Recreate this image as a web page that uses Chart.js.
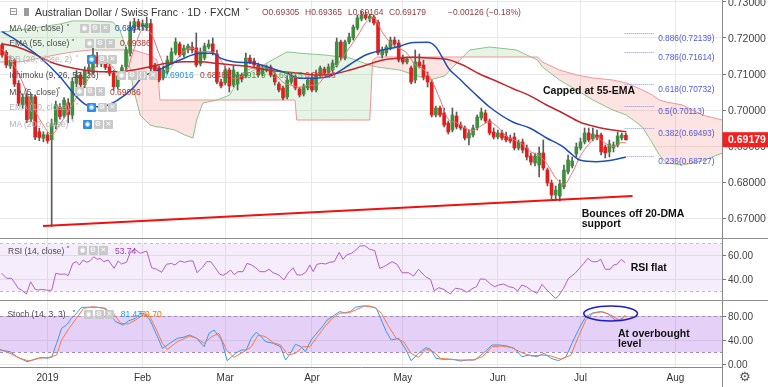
<!DOCTYPE html>
<html><head><meta charset="utf-8">
<script src="https://cdn.jsdelivr.net/npm/chart.js"></script>
<style>
html,body{margin:0;padding:0;background:#fff;}
#wrap{position:relative;width:768px;height:387px;overflow:hidden;font-family:"Liberation Sans",Arial,sans-serif;}
canvas{position:absolute;left:0;}
.t{position:absolute;white-space:nowrap;z-index:5;}
.ic{position:absolute;width:9px;height:9px;background:#c9c9c9;border-radius:1px;color:#fff;font-size:7px;line-height:9px;text-align:center;z-index:5;font-family:"DejaVu Sans",sans-serif;}
.ln{position:absolute;z-index:6;}
.ann{position:absolute;white-space:nowrap;z-index:7;font-weight:bold;font-size:10.5px;color:#111;line-height:10px;}
</style></head><body>
<div id="wrap">
<canvas id="cMain" width="768" height="239" style="top:0px"></canvas>
<canvas id="cRsi" width="768" height="62" style="top:239px"></canvas>
<canvas id="cSto" width="768" height="86" style="top:301px"></canvas>
</div>
<script>
// ---------------- DATA ----------------
const firstBar = -11;
const open = [.7181,.7160,.7122,.7138,.7074,.7015,.7037,.6975,.7037,.6940,.6922,.6931,
.6918,.6960,.7008,.6985,.7020,.6986,.7074,.7097,.7070,.7108,
.7110,.7148,.7128,.7140,.7120,.7102,.7065,.7095,.7120,.7158,
.7228,.7245,.7232,.7228,.7240,.7125,.71168,.7089,.71057,.71334,
.71584,.71834,.71528,.71667,.7175,.71723,.71279,.71445,.7175,.71834,
.71556,.70779,.70752,.71112,.70696,.70724,.70974,.70946,.71445,.71362,
.71251,.71001,.71112,.71196,.70974,.70724,.70613,.70363,.70779,.70918,
.70585,.70447,.70613,.7089,.70558,.70974,.7114,.71057,.71112,.71251,
.71889,.71445,.71889,.72,.72277,.72527,.72638,.72527,.72582,.72444,
.71528,.71584,.71723,.71944,.71861,.71445,.71334,.71168,.70835,.71334,
.71251,.70946,.70779,.69864,.70058,.6992,.69642,.69448,.69836,.69587,
.69503,.69226,.69309,.69503,.69781,.6992,.69698,.69392,.69254,.69365,
.69282,.69226,.69254,.68949,.69115,.68949,.68727,.68533,.68477,.6881,
.68338,.67978,.67645,.67617,.67867,.68283,.68449,.68782,.68949,.69115,
.69365,.69198,.69309,.69309,.68976,.68838,.68949,.69032,.69226,.69305];
const high = [.7186,.7165,.7150,.7142,.7082,.7045,.7048,.7045,.7042,.6950,.6940,.6938,
.6975,.7025,.7018,.7035,.7032,.7090,.7110,.7105,.7120,.7135,
.7171,.7160,.7150,.7148,.7128,.7110,.7100,.7125,.7175,.7245,
.7255,.7252,.7250,.7258,.7252,.7130,.71223,.71223,.71501,.71723,
.72,.71889,.71806,.71834,.71889,.72139,.71723,.71861,.71944,.72,
.71667,.70863,.71223,.71168,.71223,.71057,.71029,.71584,.71528,.71445,
.71306,.71251,.71251,.71251,.71029,.70779,.70668,.70946,.71029,.70974,
.70641,.70724,.7089,.71029,.71112,.71223,.71196,.71279,.7139,.72,
.71944,.71944,.72139,.72361,.72638,.72749,.72721,.72666,.72638,.72499,
.7175,.71806,.72028,.72028,.71944,.71528,.71473,.71223,.71667,.71556,
.7139,.71057,.70835,.70114,.70114,.70058,.69698,.70058,.69947,.6967,
.69559,.69448,.69587,.69864,.70058,.70003,.69753,.69503,.69448,.69448,
.69392,.69309,.69365,.6917,.69198,.69032,.6881,.6881,.68976,.6917,
.68394,.68061,.67895,.68061,.68477,.68755,.68699,.69087,.69226,.69503,
.69503,.69503,.69448,.69365,.69032,.6917,.69115,.69392,.69365,.69365];
const low = [.7147,.7118,.7115,.7065,.7012,.7005,.6965,.6968,.6918,.6915,.6912,.6908,
.6677,.6948,.6975,.6978,.6965,.6975,.7065,.7060,.7062,.7100,
.7100,.7120,.7120,.7112,.7095,.7055,.7058,.7088,.7112,.7150,
.7215,.7225,.7222,.7220,.7108,.7100,.70779,.70835,.71001,.71279,
.71528,.71473,.71473,.71584,.71584,.71196,.71223,.7139,.71695,.71528,
.70724,.70613,.70696,.70502,.70641,.70558,.70779,.7089,.71279,.71168,
.70918,.70946,.71057,.70918,.70696,.70502,.7028,.70308,.70724,.70558,
.70363,.70391,.70558,.70502,.70502,.70918,.70974,.71001,.71057,.71196,
.7139,.7139,.71834,.71944,.72222,.72472,.72499,.72444,.72361,.71528,
.71445,.71501,.71667,.7175,.71334,.71279,.71279,.70724,.70752,.71168,
.70835,.70641,.69809,.69809,.69809,.69531,.69337,.69392,.69476,.69448,
.6917,.69032,.69254,.69448,.69725,.69642,.69309,.69198,.69198,.6917,
.69115,.69087,.68893,.68893,.6881,.68616,.68477,.68449,.68144,.68338,
.67895,.67534,.67506,.67479,.67811,.68227,.68394,.68699,.68893,.6906,
.69115,.69143,.6917,.68755,.68671,.68699,.68838,.68976,.6917,.69164];
const close = [.7153,.7125,.7138,.7072,.7019,.7036,.6973,.7037,.6925,.6924,.6932,.6915,
.6962,.7015,.6982,.7028,.6988,.7079,.7097,.7070,.7111,.7118,
.7153,.7130,.7142,.7118,.7102,.7065,.7095,.7118,.7167,.7231,
.7245,.7232,.7240,.7240,.7115,.7106,.70835,.71112,.7139,.71612,
.71889,.71528,.71723,.71778,.71667,.71251,.71612,.71778,.71834,.71612,
.70779,.70668,.71112,.70668,.71112,.70974,.70863,.71445,.71334,.71251,
.70974,.71168,.71196,.70974,.70779,.70558,.70336,.70835,.70918,.70613,
.70419,.70668,.70835,.70558,.70946,.71168,.71029,.71196,.71306,.71889,
.71473,.71889,.72028,.72305,.72555,.72638,.72555,.7261,.72416,.71584,
.71667,.7175,.71944,.71834,.7139,.71334,.71417,.70779,.71334,.71223,
.70918,.70779,.69864,.70058,.69864,.69587,.69392,.69864,.69531,.69503,
.69226,.69365,.69503,.69809,.69947,.69698,.69365,.69254,.69365,.69226,
.6917,.69143,.68949,.69115,.68893,.68699,.6856,.68727,.6881,.68394,
.67978,.67645,.67784,.6795,.68338,.68616,.68588,.68976,.69115,.69365,
.6917,.69337,.69226,.68838,.6881,.6906,.69032,.69282,.69309,.69179];

const ma20Bars = [-11,-7,-2,3,7,10,13,17,21,23,26,32,37,40,42,45,50,53,58,61,65,69,73,77,81,85,88,92,94,95.5,97,99.5,103,107,112.6,116.7,120.8,124.7,127.1,128.8,132.9,136.8,140];
const ma20Vals = [.72175,.71897,.71481,.70927,.70372,.70114,.70095,.7028,.70649,.70927,.71065,.7139,.71575,.71575,.71436,.71343,.71298,.71204,.71021,.70882,.70882,.70974,.71251,.71528,.71667,.71759,.7187,.71881,.7175,.71473,.71168,.7089,.70502,.70086,.6967,.69503,.69226,.68985,.68755,.68616,.68569,.68616,.68699];
const ema55Bars = [-11,-7.5,-3.5,0.6,4.6,8.6,12.7,16.7,20.7,24.8,28.8,32.8,36.9,40.9,44.9,49,53,57,61.1,65.1,69.1,73.2,77.2,81.2,85.2,88.4,92.5,96.6,100.5,104.6,108.7,112.6,116.7,120.8,124.7,128.8,132.9,136.8,140.1];
const ema55Vals = [.71834,.71759,.71575,.71343,.71204,.71112,.71065,.71065,.71112,.71204,.71298,.71343,.71343,.71298,.71251,.71204,.71112,.71065,.71021,.70974,.71001,.71112,.71251,.7139,.71445,.71465,.71445,.71409,.71251,.7100,.7080,.7060,.7040,.70141,.6992,.6967,.69531,.69448,.69401];
const ma5Bars = [-11,-9,-7,-5,-3,-1,1,3,5,7,9,11,13,15,17,19,21,23,25,27,29,31,33,35,37,39,41,43,45,47,49,51,53,55,57,59,61,63,65,67,69,71,73,75,77,79,81,83,85,87,89,91,93,95,97,99,101,103,105,107,109,111,113,115,117,119,121,123,125,127,129,131,133,135,137,139,140];
const ma5Vals = [.7170,.7140,.7101,.7048,.6998,.6958,.6932,.6961,.6995,.7035,.7069,.7110,.7131,.7129,.7104,.7109,.7171,.7223,.7214,.7157,.7111,.7137,.7163,.7172,.7161,.7163,.7152,.7120,.7087,.7094,.7114,.7117,.7118,.7102,.7077,.7069,.7063,.7069,.7069,.7091,.7113,.7138,.7172,.7205,.7242,.7256,.7217,.7187,.7172,.7158,.7125,.7113,.7082,.7030,.6975,.6965,.6950,.6943,.6957,.6967,.6953,.6928,.6917,.6905,.6884,.6874,.6849,.6812,.6794,.6826,.6873,.6905,.6925,.6908,.6899,.6910,.6909];

const cloudBars = [-11.5,-6.7,-1.8,3,6.1,10.3,15.8,17.5,19.2,20.7,22.4,24.8,26.5,27.2,30.8,33.2,35.2,36.1,37.6,41,44.1,46.5,51.4,57.9,59.9,60.3,67.1,73.1,78,78.7,79.7,85.2,92.5,96.1,99.8,102.2,107,113.5,116,118.6,119.8,123.9,128.1,132,136.8,140.1,144,146.4,148.1,149.8,153.7,158.5,163.3];
const spanA = [.72166,.72222,.72305,.72388,.72472,.72472,.72444,.72222,.71667,.70641,.69864,.69587,.69531,.69531,.69448,.69309,.69226,.69725,.70197,.7028,.70419,.7089,.71196,.71612,.71598,.71584,.71528,.71445,.71251,.71223,.71196,.71112,.70835,.70946,.7139,.71667,.7175,.71667,.71528,.7139,.71196,.70835,.70558,.7028,.70003,.69864,.69531,.69087,.68755,.68533,.68477,.68588,.6881];
const spanB = [.71334,.71334,.71445,.71556,.71612,.71667,.71667,.71667,.71667,.71667,.71612,.71528,.7139,.7028,.7028,.7028,.7028,.7028,.7028,.7028,.7028,.7028,.7028,.7028,.7028,.69725,.69725,.69725,.69725,.7139,.71473,.71473,.71473,.71473,.71473,.71473,.71473,.71473,.71473,.71473,.71334,.71112,.70974,.7089,.70835,.70752,.70558,.70419,.7028,.70225,.70141,.69864,.69725];

const trendBars = [-1.1, 141.6];
const trendVals = [0.66785, 0.67617];
const fibRatios = [0.886, 0.786, 0.618, 0.5, 0.382, 0.236];
const fibPrices = [0.72139, 0.71614, 0.70732, 0.70113, 0.69493, 0.68727];

const rsiBars = [-11.1,-9.9,-8.7,-7.9,-7.1,-6.3,-5.1,-4.1,-3.0,-2.2,-1.4,-0.2,1.0,2.0,3.0,4.2,5.0,6.1,7.0,7.7,8.6,9.5,10.3,11.2,12.0,12.7,13.6,14.7,16.1,17.1,17.9,19.1,20.1,21.1,22.4,24.0,25.2,26.4,27.6,28.8,30.0,30.8,32.0,33.2,34.3,35.2,36.2,37.5,38.5,39.5,40.5,41.7,42.5,43.3,44.3,45.2,46.1,47.3,48.3,49.4,50.4,51.4,52.6,53.6,54.6,56.0,57.2,58.2,59.4,60.4,61.5,62.5,63.5,64.3,65.2,66.3,67.3,68.3,69.4,70.6,71.5,72.4,73.6,74.4,75.6,76.8,78.0,79.2,80.4,81.4,83.4,84.6,85.8,87.4,88.6,89.8,91.5,92.7,93.6,94.7,95.9,97.5,98.7,100.3,101.5,103.0,103.8,104.8,106.0,107.2,108.2,109.2,110.4,111.6,112.8,113.8,114.8,115.9,117.2,118.5,119.7,120.9,121.7,122.9,123.7,124.9,126.1,127.7,129.0,129.8,130.8,131.8,133.0,133.9,135.0,136.2,137.0,137.8,138.9,139.8];
const rsiVals = [44.8,40.6,40.6,36.4,32.2,30.7,27.3,37.7,31.3,30.7,31.3,30.5,30.5,44.8,44.0,44.2,42.8,53.2,54.6,51.8,56.0,54.1,55.4,58.8,56.6,57.5,54.6,56.0,49.0,55.2,52.7,54.1,63.0,65.1,61.7,63.6,49.5,48.2,45.7,52.4,53.2,51.8,55.2,54.1,55.2,55.2,45.3,49.9,54.6,54.6,49.9,44.0,43.1,44.8,47.6,43.6,46.2,46.2,53.2,51.8,49.5,46.2,46.2,48.2,45.3,43.4,39.2,44.8,49.5,43.4,43.4,45.7,51.8,46.2,52.4,53.2,52.7,54.1,54.6,62.5,56.6,60.3,61.7,63.9,67.8,68.1,65.1,63.9,49.0,50.4,54.6,52.4,45.3,45.3,42.5,48.2,41.9,39.7,30.1,32.7,31.3,27.3,32.2,31.3,28.8,32.2,33.5,40.1,39.7,35.8,33.5,34.9,35.8,33.5,32.7,29.9,34.9,33.5,30.1,27.9,35.5,30.7,27.9,23.7,25.7,32.2,40.6,44.8,49.9,53.2,57.5,54.6,54.6,56.6,48.2,48.2,51.8,52.4,56.6,53.74];
const rsiBand = [30, 70];

const kBars = [-11.5,-9.1,-7.4,-5.0,-3.2,-1.4,-0.2,1.0,2.2,3.4,4.6,5.8,7.0,8.2,9.9,12.3,14.1,15.3,16.5,18.3,19.7,21.3,22.4,23.6,24.8,26.6,27.8,29.6,31.4,32.8,34.4,36.1,37.9,39.1,40.3,42.1,43.5,45.5,46.9,48.1,49.3,50.5,51.6,52.8,54.6,56.4,57.6,58.8,60.0,61.4,62.4,63.8,64.8,66.5,67.7,69.5,70.7,71.9,73.3,74.5,76.1,77.9,79.6,80.8,82.0,83.2,85.0,86.8,88.0,89.8,91.6,92.7,94.0,95.7,98.1,99.9,101.7,103.5,105.9,107.6,109.4,111.2,113.0,114.8,116.6,118.4,120.2,121.9,123.7,125.5,127.3,128.9,130.3,132.1,133.9,135.7,137.4,138.9,139.8];
const kVals = [23.8,21,12.7,4.5,8.4,11.7,10,11.7,34.9,59.7,65.1,76.2,84.5,94.4,94.4,94.4,92.7,81.7,70.6,65.1,72.2,76.2,84.5,83.3,73.4,45.8,26.6,34.9,43.1,44.8,48.6,43.1,29.3,51.4,56.9,40.3,6.1,18.3,23.8,23.8,43.1,53.1,46.9,37.5,34.9,29.3,7.3,18.3,33.2,29.3,21,40.3,48.6,62.3,73.4,81.7,87.2,85.5,87.2,94.4,96.5,96.5,92.7,73.4,54,40.3,43.1,23.8,6.1,18.3,27.6,25,10,8.4,8.4,5.6,7.3,7.3,21,32.1,32.1,30.4,26.6,12.7,15.5,12.7,18.3,10,6.1,12.7,40.3,62.3,78.8,85.5,87.2,83.3,73.4,73.4,81.43];
const dBars = [-11.5,-9.1,-6.7,-4.4,-2.0,0.4,2.2,3.4,5.2,7.0,8.7,11.1,13.5,15.9,17.7,19.5,21.3,23.1,24.8,26.0,27.8,29.0,31.4,34.4,36.1,37.9,39.7,41.5,43.3,45.1,47.5,49.3,51.0,52.8,54.6,56.4,58.2,60.0,61.8,63.5,65.3,67.1,68.9,70.7,73.1,74.9,76.7,79.1,80.8,82.6,84.4,86.2,88.0,89.8,91.6,93.4,95.1,97.5,99.9,102.9,105.3,107.6,110.0,112.4,114.8,117.2,119.6,121.9,124.3,126.7,128.5,130.3,132.1,134.4,136.8,138.4,139.8];
const dVals = [25,18.3,10,5.6,10,11.7,15.5,40.3,59.7,76.2,92.7,95.4,92.7,84.5,67.9,66.8,73.4,81.7,78.8,62.3,34.9,25,37.5,46.9,43.1,34.9,45.8,51.4,23.8,11.7,21,29.3,48.6,45.8,35.9,32.1,15.5,18.3,29.3,29.3,45.8,62.3,76.2,84.5,85.5,91,96.5,94.4,84.5,62.3,43.1,37.5,18.3,11.7,25,21,10,8.4,7.3,7.3,12.7,29.3,30.4,27.6,19.3,13.9,15.5,13.9,8.4,15.5,45.8,73.4,84.5,87.2,80,73.4,79.7];
const stochBand = [20, 80];
const ellipseBars = [129.8, 142.8];
const ellipseVals = [71.7, 96.5];

const monthBars = [0, 23, 43, 64, 86, 109, 129, 152];
const monthLabels = ['2019','Feb','Mar','Apr','May','Jun','Jul','Aug'];
const priceTicks = [0.67, 0.68, 0.69, 0.70, 0.71, 0.72, 0.73];
const rsiTicks = [40, 60];
const stochTicks = [0, 40, 80];

// ---------------- RENDER ----------------
const FONT = 'Liberation Sans, Arial, sans-serif';
const X_MIN = -11.51, X_MAX = 163.26;
const GRID = '#e9e9e9';
const pts = (xs, ys) => xs.map((x, k) => ({x, y: ys[k]}));
const bars = close.map((_, k) => firstBar + k);
const up = close.map((c, k) => c >= open[k]);

function xScale(showLabels) {
  return {
    type: 'linear', min: X_MIN, max: X_MAX, offset: false,
    grid: {color: GRID, drawTicks: false, offset: false},
    border: {display: showLabels, color: '#888'},
    afterBuildTicks: s => { s.ticks = monthBars.map(v => ({value: v})); },
    ticks: showLabels ? {display: true, autoSkip: false, maxRotation: 0, padding: 5, color: '#333',
      font: {family: FONT, size: 10}, callback: v => monthLabels[monthBars.indexOf(v)]} : {display: false},
    afterFit: s => { s.height = showLabels ? 20 : 0; s.paddingLeft = 0; s.paddingRight = 0; s.paddingTop = 0; s.paddingBottom = 0; }
  };
}
function yScale(min, max, ticks, dec, size) {
  return {
    position: 'right', min, max,
    afterBuildTicks: s => { s.ticks = ticks.map(v => ({value: v})); },
    ticks: {callback: v => Number(v).toFixed(dec), color: '#444', padding: 2, autoSkip: false, labelOffset: 1.2,
      font: {family: FONT, size}},
    grid: {color: GRID, tickColor: '#777', tickLength: 4},
    border: {display: true, color: '#888'},
    afterFit: s => { s.width = 46; s.paddingTop = 0; s.paddingBottom = 0; s.paddingLeft = 0; s.paddingRight = 0; }
  };
}
const base = {responsive: false, animation: false, devicePixelRatio: 1,
  layout: {padding: 0, autoPadding: false}, events: []};

const bandPlugin = {
  id: 'band',
  beforeDatasetsDraw(chart, args, o) {
    if (!o || !o.levels) return;
    const {ctx, chartArea: a} = chart; const y = chart.scales.y;
    const yt = y.getPixelForValue(o.levels[1]), yb = y.getPixelForValue(o.levels[0]);
    ctx.save();
    ctx.fillStyle = o.fill; ctx.fillRect(a.left, yt, a.right - a.left, yb - yt);
    ctx.strokeStyle = o.line; ctx.lineWidth = 1; ctx.setLineDash([3, 3]);
    [yt, yb].forEach(v => { const p = Math.round(v) + 0.5; ctx.beginPath(); ctx.moveTo(a.left, p); ctx.lineTo(a.right, p); ctx.stroke(); });
    ctx.restore();
  }
};

const mainAnno = {
  id: 'mainAnno',
  afterDatasetsDraw(chart) {
    const {ctx} = chart; const x = chart.scales.x, y = chart.scales.y;
    ctx.save();
    ctx.font = '8.3px ' + FONT; ctx.textBaseline = 'middle'; ctx.fillStyle = '#5258e0';
    fibPrices.forEach((p, k) => {
      const py = Math.round(y.getPixelForValue(p)) + 0.5;
      ctx.strokeStyle = '#8d92f2'; ctx.lineWidth = 1; ctx.setLineDash([1, 1]);
      ctx.beginPath(); ctx.moveTo(x.getPixelForValue(139.7), py); ctx.lineTo(x.getPixelForValue(147), py); ctx.stroke();
      ctx.fillText(fibRatios[k] + '(' + p.toFixed(5) + ')', x.getPixelForValue(147.8), py + 5);
    });
    ctx.restore();
  },
  afterDraw(chart) {
    const {ctx} = chart; const y = chart.scales.y; const a = chart.chartArea;
    const last = close[close.length - 1];
    const py = y.getPixelForValue(last);
    ctx.save();
    ctx.fillStyle = '#f41f1f'; ctx.fillRect(a.right + 0.5, py - 7.5, 768 - a.right, 15);
    ctx.fillStyle = '#fff'; ctx.font = 'bold 10.5px ' + FONT; ctx.textBaseline = 'middle';
    ctx.fillText(last.toFixed(5), a.right + 6, py + 0.5);
    ctx.restore();
  }
};

const stochAnno = {
  id: 'stochAnno',
  afterDatasetsDraw(chart) {
    const {ctx} = chart; const x = chart.scales.x, y = chart.scales.y;
    const x0 = x.getPixelForValue(ellipseBars[0]), x1 = x.getPixelForValue(ellipseBars[1]);
    const y0 = y.getPixelForValue(ellipseVals[1]), y1 = y.getPixelForValue(ellipseVals[0]);
    ctx.save(); ctx.strokeStyle = '#1d1dc4'; ctx.lineWidth = 1.6;
    ctx.beginPath(); ctx.ellipse((x0 + x1) / 2, (y0 + y1) / 2, (x1 - x0) / 2, (y1 - y0) / 2, 0, 0, Math.PI * 2); ctx.stroke();
    ctx.restore();
  }
};

new Chart(document.getElementById('cMain'), {
  type: 'bar',
  data: {datasets: [
    {type: 'line', data: pts(cloudBars, spanA), borderColor: '#88c488', borderWidth: 1, pointRadius: 0, tension: 0,
      fill: {target: '+1', above: 'rgba(76,175,80,0.14)', below: 'rgba(244,67,54,0.15)'}, order: 20},
    {type: 'line', data: pts(cloudBars, spanB), borderColor: '#f09494', borderWidth: 1, pointRadius: 0, tension: 0, fill: false, order: 19},
    {type: 'bar', data: bars.map((b, k) => ({x: b, y: [low[k], high[k]]})), backgroundColor: '#5a5a5a',
      barThickness: 1, grouped: false, order: 10},
    {type: 'bar', data: bars.map((b, k) => ({x: b, y: [open[k], close[k]]})),
      backgroundColor: up.map(u => u ? '#3d8e3d' : '#e41c1c'), barThickness: 3, minBarLength: 1, grouped: false, order: 9},
    {type: 'line', data: pts(ma5Bars, ma5Vals), borderColor: '#e87272', borderWidth: 1, pointRadius: 0, cubicInterpolationMode: 'monotone', order: 3},
    {type: 'line', data: pts(ema55Bars, ema55Vals), borderColor: '#c0282d', borderWidth: 1.5, pointRadius: 0, cubicInterpolationMode: 'monotone', order: 2},
    {type: 'line', data: pts(ma20Bars, ma20Vals), borderColor: '#1f4fb2', borderWidth: 1.5, pointRadius: 0, cubicInterpolationMode: 'monotone', order: 1},
    {type: 'line', data: pts(trendBars, trendVals), borderColor: '#f01010', borderWidth: 1.8, pointRadius: 0, order: 0}
  ]},
  options: Object.assign({}, base, {
    plugins: {legend: {display: false}, tooltip: {enabled: false}},
    scales: {x: xScale(false), y: yScale(0.66424, 0.73054, priceTicks, 5, 10.5)}
  }),
  plugins: [mainAnno]
});

new Chart(document.getElementById('cRsi'), {
  type: 'line',
  data: {datasets: [
    {data: pts(rsiBars, rsiVals), borderColor: '#b25ec9', borderWidth: 1, pointRadius: 0, tension: 0}
  ]},
  options: Object.assign({}, base, {
    plugins: {legend: {display: false}, tooltip: {enabled: false},
      band: {levels: rsiBand, fill: 'rgba(170,100,230,0.12)', line: '#c8b6da'}},
    scales: {x: xScale(false), y: yScale(21.44, 73.76, rsiTicks, 2, 10)}
  }),
  plugins: [bandPlugin]
});

new Chart(document.getElementById('cSto'), {
  type: 'line',
  data: {datasets: [
    {data: pts(dBars, dVals), borderColor: '#ff7640', borderWidth: 1, pointRadius: 0, tension: 0},
    {data: pts(kBars, kVals), borderColor: '#3a97f0', borderWidth: 1, pointRadius: 0, tension: 0}
  ]},
  options: Object.assign({}, base, {
    plugins: {legend: {display: false}, tooltip: {enabled: false},
      band: {levels: stochBand, fill: 'rgba(170,100,230,0.30)', line: '#a48db5'}},
    scales: {x: xScale(true), y: yScale(-4.3, 104.8, stochTicks, 2, 10)}
  }),
  plugins: [bandPlugin, stochAnno]
});

// ---------------- OVERLAY TEXT ----------------
const wrap = document.getElementById('wrap');
function txt(s, x, cy, size, color, extra) {
  const d = document.createElement('div'); d.className = 't'; d.textContent = s;
  d.style.cssText += `left:${x}px;top:${cy - 6}px;height:12px;line-height:12px;font-size:${size}px;color:${color};` + (extra || '');
  wrap.appendChild(d); return d;
}
function icons(x, cy, glyphs, blueFirst) {
  glyphs.forEach((g, k) => {
    const d = document.createElement('div'); d.className = 'ic'; d.textContent = g;
    d.style.left = (x + k * 10.5) + 'px'; d.style.top = (cy - 4.5) + 'px';
    if (k === 0 && blueFirst) d.style.background = '#2a8fe8';
    wrap.appendChild(d);
  });
}
function line(x, y, w, h, c) {
  const d = document.createElement('div'); d.className = 'ln';
  d.style.cssText += `left:${x}px;top:${y}px;width:${w}px;height:${h}px;background:${c};`;
  wrap.appendChild(d);
}
// header
txt('\u229F', 9, 11.5, 10, '#777', 'font-family:DejaVu Sans,sans-serif;');
line(24, 8, 5, 8, '#9a9a9a');
txt('Australian Dollar / Swiss Franc \u00B7 1D \u00B7 FXCM', 35, 11.7, 10.5, '#333');
txt('\u02C5', 245, 12, 9, '#333', 'font-family:DejaVu Sans,sans-serif;');
const hc = '#913c3c';
txt('O0.69305', 262, 12, 8.5, hc); txt('H0.69365', 305, 12, 8.5, hc);
txt('L0.69164', 348, 12, 8.5, hc); txt('C0.69179', 389, 12, 8.5, hc);
txt('\u22120.00126 (\u22120.18%)', 448, 12, 8.5, hc);

const G3 = ['\u25C9', '\u2699', '\u2715'];
const rows = [
  {l: 'MA (20, close)', cy: 28.3, ch: 66, ix: 80, g: G3, hid: false, v: [['0.68847', 115, '#1f53b8']]},
  {l: 'EMA (55, close)', cy: 43.3, ch: 71, ix: 85, g: G3, hid: false, v: [['0.69386', 120, '#b5332b']]},
  {l: 'BB (20, close, 2)', cy: 59.3, ch: 75, ix: 87, g: G3, hid: true, v: []},
  {l: 'Ichimoku (9, 26, 52, 26)', cy: 75, ch: 104, ix: 117, g: ['\u25C9', '\u2699', '{}', '\u2715'], hid: false,
    v: [['0.69016', 163, '#2196f3'], ['0.68488', 200, '#a33a2f'], ['0.69179', 235, '#3f9b3f'], ['0.69815', 272, '#4f9f4f'], ['0.70083', 305, '#e53935']]},
  {l: 'MA (5, close)', cy: 91.7, ch: 57, ix: 75, g: G3, hid: false, v: [['0.69086', 110, '#b5332b']]},
  {l: 'EMA (10, close)', cy: 107.3, ch: 75, ix: 87, g: G3, hid: true, v: []},
  {l: 'MA (200, close)', cy: 124, ch: 71, ix: 83, g: G3, hid: true, v: []},
  {l: 'RSI (14, close)', cy: 250.7, ch: 66, ix: 78, g: G3, hid: false, v: [['53.74', 115, '#9c3cb0']], x0: 8},
  {l: 'Stoch (14, 3, 3)', cy: 314, ch: 72, ix: 84, g: G3, hid: false, v: [['81.43', 120.7, '#2196f3'], ['79.70', 140.4, '#ff6d00']], x0: 7.4}
];
rows.forEach(r => {
  const c = r.hid ? '#b3b3b3' : '#4a4a4a';
  txt(r.l, r.x0 || 9.3, r.cy, 8.5, c);
  txt('\u02C5', r.ch, r.cy + 0.5, 8, c, 'font-family:DejaVu Sans,sans-serif;');
  icons(r.ix, r.cy, r.g, r.hid);
  r.v.forEach(v => txt(v[0], v[1], r.cy, 8.5, v[2]));
});

// panel separators and axis pieces
line(0, 238, 768, 1, '#8f8f8f');
line(0, 300, 768, 1, '#8f8f8f');
line(722, 367, 1, 20, '#888');
txt('\u2699', 739, 377, 13, '#555', 'font-family:DejaVu Sans,sans-serif;');

// annotations
function ann(html, x, cyFirst) {
  const d = document.createElement('div'); d.className = 'ann'; d.innerHTML = html;
  d.style.left = x + 'px'; d.style.top = (cyFirst - 5) + 'px'; wrap.appendChild(d);
}
ann('Capped at 55-EMA', 543, 90);
ann('Bounces off 20-DMA<br>support', 581.7, 212.7);
ann('RSI flat', 630.7, 267.3);
ann('At overbought<br>level', 618, 333.3);
</script>
</body></html>
